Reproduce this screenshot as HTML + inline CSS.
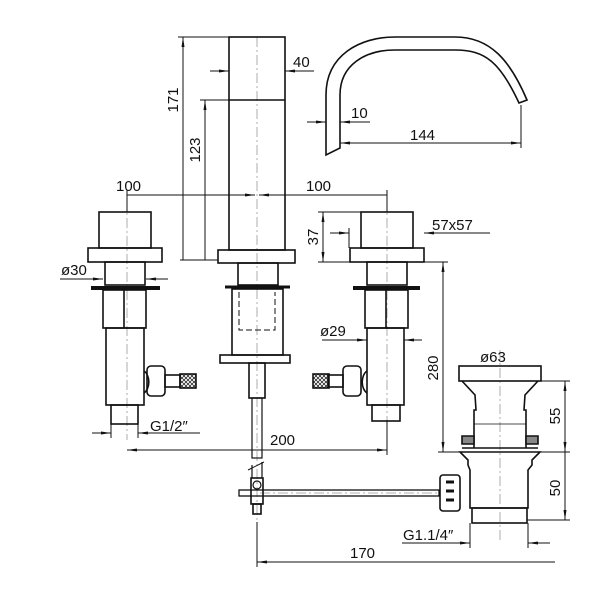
<!DOCTYPE html>
<html><head><meta charset="utf-8"><style>
html,body{margin:0;padding:0;background:#fff}
svg{display:block}
text{font-family:"Liberation Sans",sans-serif;font-size:15px;fill:#111}
</style></head><body>
<svg width="609" height="609" viewBox="0 0 609 609" xmlns="http://www.w3.org/2000/svg">
<defs>
<marker id="a" viewBox="0 0 10 6" refX="10" refY="3" markerWidth="10" markerHeight="6" orient="auto-start-reverse" markerUnits="userSpaceOnUse"><path d="M0,1.5 L10,3 L0,4.5z" fill="#111"/></marker>
<pattern id="h" width="4" height="4" patternUnits="userSpaceOnUse"><path d="M0,0L4,4M4,0L0,4" stroke="#111" stroke-width="0.7"/></pattern>
</defs>
<g fill="none" stroke="#999" stroke-width="0.8" stroke-dasharray="10,3,2,3">
<line x1="257" y1="37" x2="257" y2="520"/>
<line x1="127" y1="200" x2="127" y2="440"/>
<line x1="387" y1="200" x2="387" y2="440"/>
<line x1="500" y1="350" x2="500" y2="540"/>
<line x1="260" y1="493" x2="440" y2="493"/>
</g>
<g fill="none" stroke="#111" stroke-width="1.6">
<!-- center spout -->
<rect x="229" y="37" width="56" height="213"/>
<line x1="229" y1="100" x2="285" y2="100"/>
<rect x="218" y="250" width="77" height="13"/>
<rect x="238" y="263" width="40" height="22"/>
<line x1="225" y1="287" x2="290" y2="287" stroke-width="3"/>
<rect x="232" y="289" width="51" height="66"/>
<rect x="220" y="355" width="70" height="8"/>
<rect x="249" y="363" width="16" height="35"/>
<rect x="252" y="398" width="10" height="60" stroke-width="1.2"/>
<line x1="248" y1="470" x2="264" y2="462" stroke-width="1"/>
<line x1="252" y1="465" x2="252" y2="478" stroke-width="1.2"/>
<line x1="262" y1="462" x2="262" y2="478" stroke-width="1.2"/>
<rect x="251" y="478" width="12" height="26"/>
<rect x="253" y="504" width="8" height="10"/>
<circle cx="257" cy="485" r="4" stroke-width="1.2"/>
<rect x="239" y="490" width="200" height="6" stroke-width="1.3"/>
<g stroke-dasharray="6,3" stroke-width="1"><path d="M239,292 V330 H275 V292"/></g>
<!-- left valve -->
<rect x="99" y="212" width="52" height="36"/>
<rect x="88" y="248" width="74" height="14"/>
<rect x="105" y="262" width="40" height="23"/>
<line x1="91" y1="288" x2="160" y2="288" stroke-width="4"/>
<rect x="103" y="290" width="43" height="38"/>
<line x1="124" y1="290" x2="124" y2="328"/>
<rect x="106" y="328" width="38" height="77"/>
<rect x="111" y="405" width="27" height="19"/>
<path d="M144,371 a8,12 0 0 1 0,22"/>
<rect x="147" y="366" width="18" height="30" rx="4"/>
<rect x="165" y="375" width="15" height="12"/>
<rect x="180" y="374" width="16" height="14" fill="url(#h)"/>
<!-- right valve -->
<rect x="361" y="212" width="52" height="36"/>
<rect x="350" y="248" width="74" height="14"/>
<rect x="367" y="262" width="40" height="23"/>
<line x1="353" y1="288" x2="420" y2="288" stroke-width="4"/>
<rect x="365" y="290" width="43" height="38"/>
<line x1="386" y1="290" x2="386" y2="328"/>
<rect x="367" y="328" width="37" height="77"/>
<rect x="372" y="405" width="28" height="16"/>
<path d="M367,371 a8,12 0 0 0 0,22"/>
<rect x="343" y="366" width="18" height="30" rx="4"/>
<rect x="328" y="375" width="15" height="12"/>
<rect x="313" y="374" width="16" height="14" fill="url(#h)"/>
<!-- spout -->
<path d="M326,155 L326,95 C326,55 360,37 395,37 L455,37 C490,37 510,60 527,100 L519,103 C500,62 485,50 455,50 L395,50 C365,50 340,65 340,95 L340,148 Z"/>
<!-- waste -->
<rect x="459" y="366" width="82" height="15"/>
<path d="M462,381 L475,395 L476,410 L474,410 L474,448 M538,381 L525,395 L524,410 L526,410 L526,448"/>
<line x1="474" y1="424" x2="526" y2="424" stroke-width="0.8"/>
<path d="M462,436 h12 v8 h-12z M526,436 h12 v8 h-12z" fill="#888"/>
<line x1="462" y1="448" x2="538" y2="448"/>
<path d="M460,452 L540,452 L532,460 L532,465 L528,470 L528,508 L470,508 L470,470 L468,465 L468,460 Z"/>
<rect x="472" y="508" width="55" height="15"/>
<rect x="440" y="475" width="20" height="36" rx="3"/>
<path d="M446,482 h8 M446,491 h8 M446,500 h8" stroke-width="3"/>
</g>
<!-- dimension lines -->
<g fill="none" stroke="#111" stroke-width="1">
<line x1="183" y1="37" x2="183" y2="260" marker-start="url(#a)"/>
<line x1="178" y1="37" x2="229" y2="37"/>
<line x1="205" y1="100" x2="205" y2="260" marker-start="url(#a)"/>
<line x1="200" y1="100" x2="229" y2="100"/>
<line x1="180" y1="260" x2="218" y2="260"/>
<line x1="127" y1="195" x2="255" y2="195" marker-end="url(#a)"/>
<line x1="259" y1="195" x2="387" y2="195" marker-start="url(#a)"/>
<line x1="387" y1="190" x2="387" y2="212"/>
<line x1="127" y1="190" x2="127" y2="212"/>
<line x1="210" y1="71" x2="229" y2="71" marker-end="url(#a)"/>
<line x1="314" y1="71" x2="285" y2="71" marker-end="url(#a)"/>
<line x1="307" y1="122" x2="326" y2="122" marker-end="url(#a)"/>
<line x1="370" y1="122" x2="340" y2="122" marker-end="url(#a)"/>
<line x1="340" y1="143" x2="521" y2="143" marker-start="url(#a)" marker-end="url(#a)"/>
<line x1="521" y1="105" x2="521" y2="148"/>
<line x1="323" y1="212" x2="323" y2="262" marker-start="url(#a)" marker-end="url(#a)"/>
<line x1="318" y1="212" x2="361" y2="212"/><line x1="318" y1="262" x2="350" y2="262"/>
<line x1="330" y1="233" x2="349" y2="233" marker-end="url(#a)"/>
<line x1="490" y1="233" x2="424" y2="233" marker-end="url(#a)"/>
<line x1="349" y1="228" x2="349" y2="248"/>
<line x1="443" y1="262" x2="443" y2="452" marker-start="url(#a)" marker-end="url(#a)"/>
<line x1="424" y1="262" x2="448" y2="262"/><line x1="438" y1="452" x2="460" y2="452"/>
<line x1="565" y1="381" x2="565" y2="452" marker-start="url(#a)" marker-end="url(#a)"/>
<line x1="565" y1="452" x2="565" y2="520" marker-end="url(#a)"/>
<line x1="541" y1="381" x2="570" y2="381"/><line x1="540" y1="452" x2="570" y2="452"/><line x1="527" y1="520" x2="570" y2="520"/>
<line x1="459" y1="366" x2="541" y2="366"/>
<line x1="60" y1="279" x2="103" y2="279" marker-end="url(#a)"/>
<line x1="168" y1="279" x2="146" y2="279" marker-end="url(#a)"/>
<line x1="322" y1="340" x2="367" y2="340" marker-end="url(#a)"/>
<line x1="422" y1="340" x2="404" y2="340" marker-end="url(#a)"/>
<line x1="92" y1="433" x2="111" y2="433" marker-end="url(#a)"/>
<line x1="200" y1="433" x2="138" y2="433" marker-end="url(#a)"/>
<line x1="111" y1="424" x2="111" y2="438"/><line x1="138" y1="424" x2="138" y2="438"/>
<line x1="127" y1="450" x2="387" y2="450" marker-start="url(#a)" marker-end="url(#a)"/>
<line x1="387" y1="420" x2="387" y2="455"/>
<line x1="402" y1="543" x2="470" y2="543" marker-end="url(#a)"/>
<line x1="550" y1="543" x2="528" y2="543" marker-end="url(#a)"/>
<line x1="470" y1="523" x2="470" y2="548"/><line x1="528" y1="523" x2="528" y2="548"/>
<line x1="257" y1="562" x2="555" y2="562" marker-start="url(#a)"/>
<line x1="257" y1="522" x2="257" y2="567"/>
</g>
<text x="116" y="191">100</text>
<text x="306" y="191">100</text>
<text x="293" y="67">40</text>
<text x="351" y="118">10</text>
<text x="410" y="140">144</text>
<text x="432" y="230">57x57</text>
<text x="61" y="275">ø30</text>
<text x="320" y="336">ø29</text>
<text x="480" y="362">ø63</text>
<text x="150" y="431">G1/2″</text>
<text x="270" y="445">200</text>
<text x="403" y="540">G1.1/4″</text>
<text x="350" y="558">170</text>
<text transform="translate(178,100) rotate(-90)" text-anchor="middle">171</text>
<text transform="translate(200,150) rotate(-90)" text-anchor="middle">123</text>
<text transform="translate(318,237) rotate(-90)" text-anchor="middle">37</text>
<text transform="translate(438,368) rotate(-90)" text-anchor="middle">280</text>
<text transform="translate(560,416) rotate(-90)" text-anchor="middle">55</text>
<text transform="translate(560,488) rotate(-90)" text-anchor="middle">50</text>
</svg>
</body></html>
